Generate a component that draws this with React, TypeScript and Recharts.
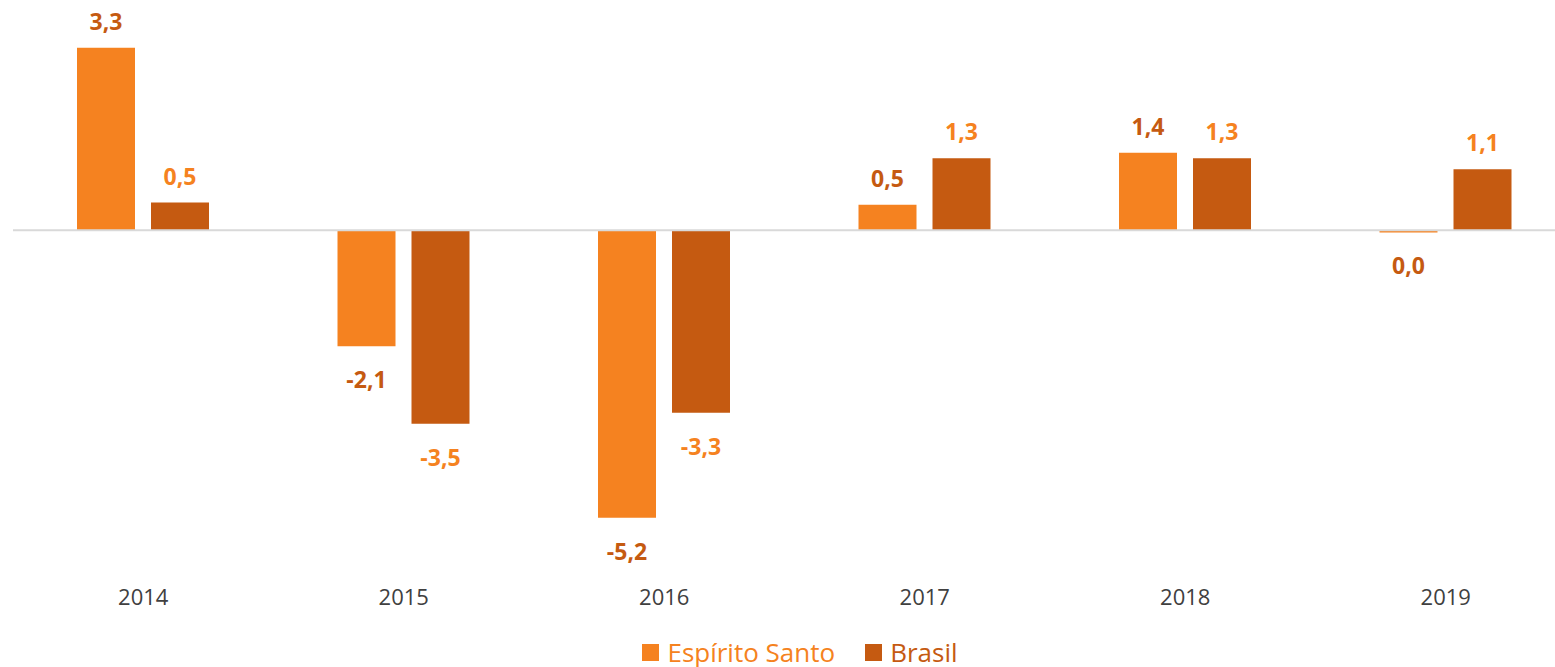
import React from 'react';
import { BarChart, Bar, XAxis, YAxis, ReferenceLine, Legend, LabelList } from 'recharts';

const years = ['2014', '2015', '2016', '2017', '2018', '2019'];
const espiritoSanto = [3.3, -2.1, -5.2, 0.46, 1.4, -0.04];
const brasil = [0.5, -3.5, -3.3, 1.3, 1.3, 1.1];

const ES_COLOR = '#F58220';
const BR_COLOR = '#C55A11';
const FONT = '"Open Sans", "Noto Sans", sans-serif';

const data = years.map((year, i) => ({ year, es: espiritoSanto[i], br: brasil[i] }));

const fmt = (v: number) => {
  const r = Math.round(v * 10) / 10;
  return (r === 0 ? 0 : r).toFixed(1).replace('.', ',');
};

const makeLabel = (color: string) => (props: any) => {
  const { x, y, width, height, value } = props;
  const neg = value < 0;
  const top = Math.min(y, y + height);
  const bottom = Math.max(y, y + height);
  const cy = neg ? bottom + 33 : top - 27;
  return (
    <text
      x={x + width / 2}
      y={cy}
      textAnchor="middle"
      dominantBaseline="central"
      fill={color}
      fontFamily={FONT}
      fontWeight={700}
      fontSize={23}
    >
      {fmt(value)}
    </text>
  );
};

// fixed height so the plot area does not depend on the font metrics
const LegendContent = () => (
  <div
    style={{
      height: 30,
      paddingLeft: 41,
      display: 'flex',
      justifyContent: 'center',
      alignItems: 'center',
      fontFamily: FONT,
      fontSize: 26,
      lineHeight: '30px',
    }}
  >
    {[
      { name: 'Espírito Santo', color: ES_COLOR },
      { name: 'Brasil', color: BR_COLOR },
    ].map((item) => (
      <span key={item.name} style={{ display: 'flex', alignItems: 'center', marginRight: 30, color: item.color }}>
        <span style={{ width: 17, height: 17, background: item.color, display: 'inline-block', marginRight: 8 }} />
        {item.name}
      </span>
    ))}
  </div>
);

export default function App() {
  return (
    <div style={{ position: 'absolute', left: 0, top: 0, width: 1555, height: 667, overflow: 'hidden' }}>
      <BarChart
        width={1576}
        height={667}
        data={data}
        margin={{ top: 9, right: 0, left: 13, bottom: 0 }}
        barCategoryGap={64}
        barGap={16}
      >
        <XAxis
          dataKey="year"
          axisLine={false}
          tickLine={false}
          tickSize={0}
          tickMargin={27}
          height={75}
          tick={{ fill: '#404040', fontSize: 22, fontFamily: FONT }}
        />
        <YAxis hide domain={[-6, 4]} allowDataOverflow />
        <ReferenceLine y={0} stroke="#D9D9D9" strokeWidth={2} />
        <Legend verticalAlign="bottom" content={<LegendContent />} />
        <Bar dataKey="es" name="Espírito Santo" fill={ES_COLOR} isAnimationActive={false}>
          <LabelList dataKey="es" content={makeLabel(BR_COLOR)} />
        </Bar>
        <Bar dataKey="br" name="Brasil" fill={BR_COLOR} isAnimationActive={false}>
          <LabelList dataKey="br" content={makeLabel(ES_COLOR)} />
        </Bar>
      </BarChart>
    </div>
  );
}
